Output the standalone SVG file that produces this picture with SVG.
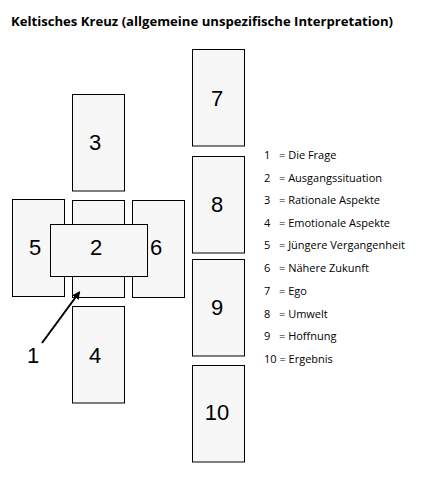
<svg xmlns="http://www.w3.org/2000/svg" width="429" height="481" viewBox="0 0 429 481">
<style>
.card{fill:#f7f7f7;stroke:#000;stroke-width:1}
.num{font-family:"Liberation Sans",Arial,sans-serif;font-size:22px;fill:#000;text-anchor:middle;dominant-baseline:central}
.leg{font-family:"Open Sans","Liberation Sans",sans-serif;font-size:11px;fill:#000}
.title{font-family:"Open Sans","Liberation Sans",sans-serif;font-size:12.5px;font-weight:bold;fill:#000}
</style>
<defs>
<marker id="ah" markerWidth="8" markerHeight="8" refX="7" refY="4" orient="auto" markerUnits="userSpaceOnUse">
<path d="M0,0 L8,4 L0,8 Z" fill="#000"/>
</marker>
</defs>
<rect width="429" height="481" fill="#fff"/>
<text class="title" x="11" y="26" textLength="382" lengthAdjust="spacingAndGlyphs">Keltisches Kreuz (allgemeine unspezifische Interpretation)</text>
<g id="card3"><rect class="card" x="72.5" y="94.5" width="52" height="96.5"/><text class="num" x="95" y="142">3</text></g>
<g id="card1"><rect class="card" x="72.5" y="200.5" width="52" height="97"/></g>
<g id="card5"><rect class="card" x="12.5" y="199.5" width="52" height="97"/><text class="num" x="35" y="247">5</text></g>
<g id="card6"><rect class="card" x="132.5" y="200.5" width="52" height="97"/><text class="num" x="156" y="247">6</text></g>
<g id="card4"><rect class="card" x="72.5" y="306.5" width="52" height="96.5"/><text class="num" x="95" y="355">4</text></g>
<g id="card2"><rect class="card" x="50.5" y="224.5" width="97" height="52"/><text class="num" x="96" y="247">2</text></g>
<g id="card7"><rect class="card" x="192.5" y="49.5" width="52" height="96.5"/><text class="num" x="217" y="98">7</text></g>
<g id="card8"><rect class="card" x="192.5" y="156.5" width="52" height="96.5"/><text class="num" x="217" y="204">8</text></g>
<g id="card9"><rect class="card" x="192.5" y="259.5" width="52" height="96.5"/><text class="num" x="217" y="307">9</text></g>
<g id="card10"><rect class="card" x="192.5" y="365.5" width="52" height="96.5"/><text class="num" x="217" y="412">10</text></g>
<g id="connectors">
<line x1="42" y1="343" x2="79.5" y2="292" stroke="#000" stroke-width="2" marker-end="url(#ah)"/>
</g>
<g id="label1"><text class="num" x="33" y="355">1</text></g>
<g id="legend">
<text class="leg" x="264" y="159">1</text><text class="leg" x="279" y="159">= Die Frage</text>
<text class="leg" x="264" y="182">2</text><text class="leg" x="279" y="182">= Ausgangssituation</text>
<text class="leg" x="264" y="204">3</text><text class="leg" x="279" y="204">= Rationale Aspekte</text>
<text class="leg" x="264" y="227">4</text><text class="leg" x="279" y="227">= Emotionale Aspekte</text>
<text class="leg" x="264" y="249">5</text><text class="leg" x="279" y="249">= Jüngere Vergangenheit</text>
<text class="leg" x="264" y="272">6</text><text class="leg" x="279" y="272">= Nähere Zukunft</text>
<text class="leg" x="264" y="295">7</text><text class="leg" x="279" y="295">= Ego</text>
<text class="leg" x="264" y="318">8</text><text class="leg" x="279" y="318">= Umwelt</text>
<text class="leg" x="264" y="340">9</text><text class="leg" x="279" y="340">= Hoffnung</text>
<text class="leg" x="264" y="363">10 = Ergebnis</text>
</g>
</svg>
